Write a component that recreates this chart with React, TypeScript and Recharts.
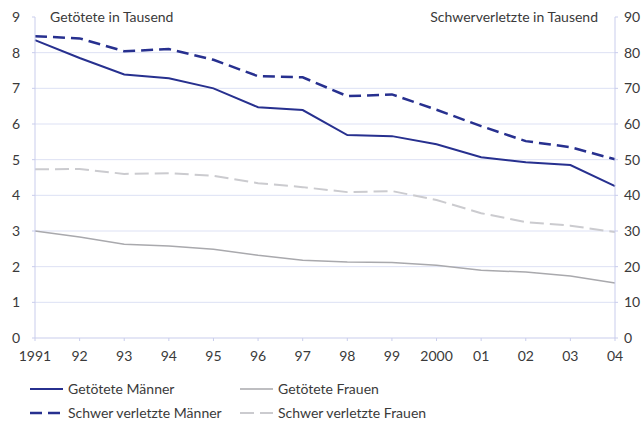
import React from "react";
import { LineChart, Line, XAxis, YAxis, CartesianGrid } from "recharts";

const years = ["1991", "92", "93", "94", "95", "96", "97", "98", "99", "2000", "01", "02", "03", "04"];
const getoeteteMaenner = [8.35, 7.85, 7.39, 7.28, 7.0, 6.47, 6.39, 5.69, 5.66, 5.43, 5.07, 4.93, 4.85, 4.26];
const getoeteteFrauen = [3.0, 2.83, 2.63, 2.58, 2.49, 2.32, 2.18, 2.13, 2.12, 2.04, 1.9, 1.85, 1.74, 1.54];
const schwerMaenner = [84.6, 84.0, 80.4, 81.0, 78.0, 73.4, 73.1, 67.8, 68.3, 64.0, 59.4, 55.2, 53.5, 50.1];
const schwerFrauen = [47.3, 47.4, 46.0, 46.2, 45.5, 43.4, 42.3, 40.9, 41.2, 38.7, 35.0, 32.5, 31.5, 29.7];
const leftTicks = [0, 1, 2, 3, 4, 5, 6, 7, 8, 9];
const rightTicks = [0, 10, 20, 30, 40, 50, 60, 70, 80, 90];
const gridValues = [1, 2, 3, 4, 5, 6, 7, 8];

const data = years.map((y, i) => ({
  year: y,
  gm: getoeteteMaenner[i],
  gf: getoeteteFrauen[i],
  sm: schwerMaenner[i],
  sf: schwerFrauen[i],
}));

const NAVY = "#27308f";
const GRAY = "#a9a9ad";
const LGRAY = "#cbcbcf";
const AXIS = "#c9cdec";
const GRID = "#dde1f4";
const FONT = "Lato, 'Noto Sans', sans-serif";
const TXT = "#3a3a3a";

const tickStyle = { fontSize: 14, fill: TXT, fontFamily: FONT } as any;

const legendItems = [
  { label: "Getötete Männer", color: NAVY, dash: undefined, w: 2, x: 30, y: 389 },
  { label: "Getötete Frauen", color: GRAY, dash: undefined, w: 1.5, x: 240, y: 389 },
  { label: "Schwer verletzte Männer", color: NAVY, dash: "12 6", w: 2.5, x: 30, y: 413 },
  { label: "Schwer verletzte Frauen", color: LGRAY, dash: "14 6", w: 2, x: 240, y: 413 },
];

export default function App() {
  return (
    <div style={{ position: "absolute", left: 0, top: 0, width: 644, height: 427, background: "#fff" }}>
      <LineChart width={644} height={427} data={data} margin={{ top: 17, right: 0, left: 0, bottom: 59 }}>
        <CartesianGrid yAxisId="left" horizontal vertical={false} stroke={GRID} horizontalValues={gridValues} />
        <XAxis
          dataKey="year"
          height={30}
          stroke={AXIS}
          tickSize={3}
          tickMargin={10}
          tick={tickStyle}
          interval={0}
        />
        <YAxis
          yAxisId="left"
          width={35}
          domain={[0, 9]}
          ticks={leftTicks}
          stroke={AXIS}
          tickSize={3}
          tickMargin={12}
          tick={tickStyle}
          interval={0}
        />
        <YAxis
          yAxisId="right"
          orientation="right"
          width={29}
          domain={[0, 90]}
          ticks={rightTicks}
          stroke={AXIS}
          tickSize={3}
          tickMargin={6}
          tick={tickStyle}
          interval={0}
        />
        <Line yAxisId="left" dataKey="gf" stroke={GRAY} strokeWidth={1.5} dot={false} isAnimationActive={false} />
        <Line yAxisId="right" dataKey="sf" stroke={LGRAY} strokeWidth={2} strokeDasharray="14 6" dot={false} isAnimationActive={false} />
        <Line yAxisId="right" dataKey="sm" stroke={NAVY} strokeWidth={2.5} strokeDasharray="12 6" dot={false} isAnimationActive={false} />
        <Line yAxisId="left" dataKey="gm" stroke={NAVY} strokeWidth={2} dot={false} isAnimationActive={false} />
        <text x={50} y={22} fontSize={14} fontFamily={FONT} fill={TXT}>Getötete in Tausend</text>
        <text x={598} y={22} fontSize={14} fontFamily={FONT} fill={TXT} textAnchor="end">Schwerverletzte in Tausend</text>
        {legendItems.map((it) => (
          <g key={it.label}>
            <line x1={it.x} x2={it.x + 33} y1={it.y} y2={it.y} stroke={it.color} strokeWidth={it.w} strokeDasharray={it.dash} />
            <text x={it.x + 38} y={it.y + 5} fontSize={14} fontFamily={FONT} fill={TXT}>{it.label}</text>
          </g>
        ))}
      </LineChart>
    </div>
  );
}
